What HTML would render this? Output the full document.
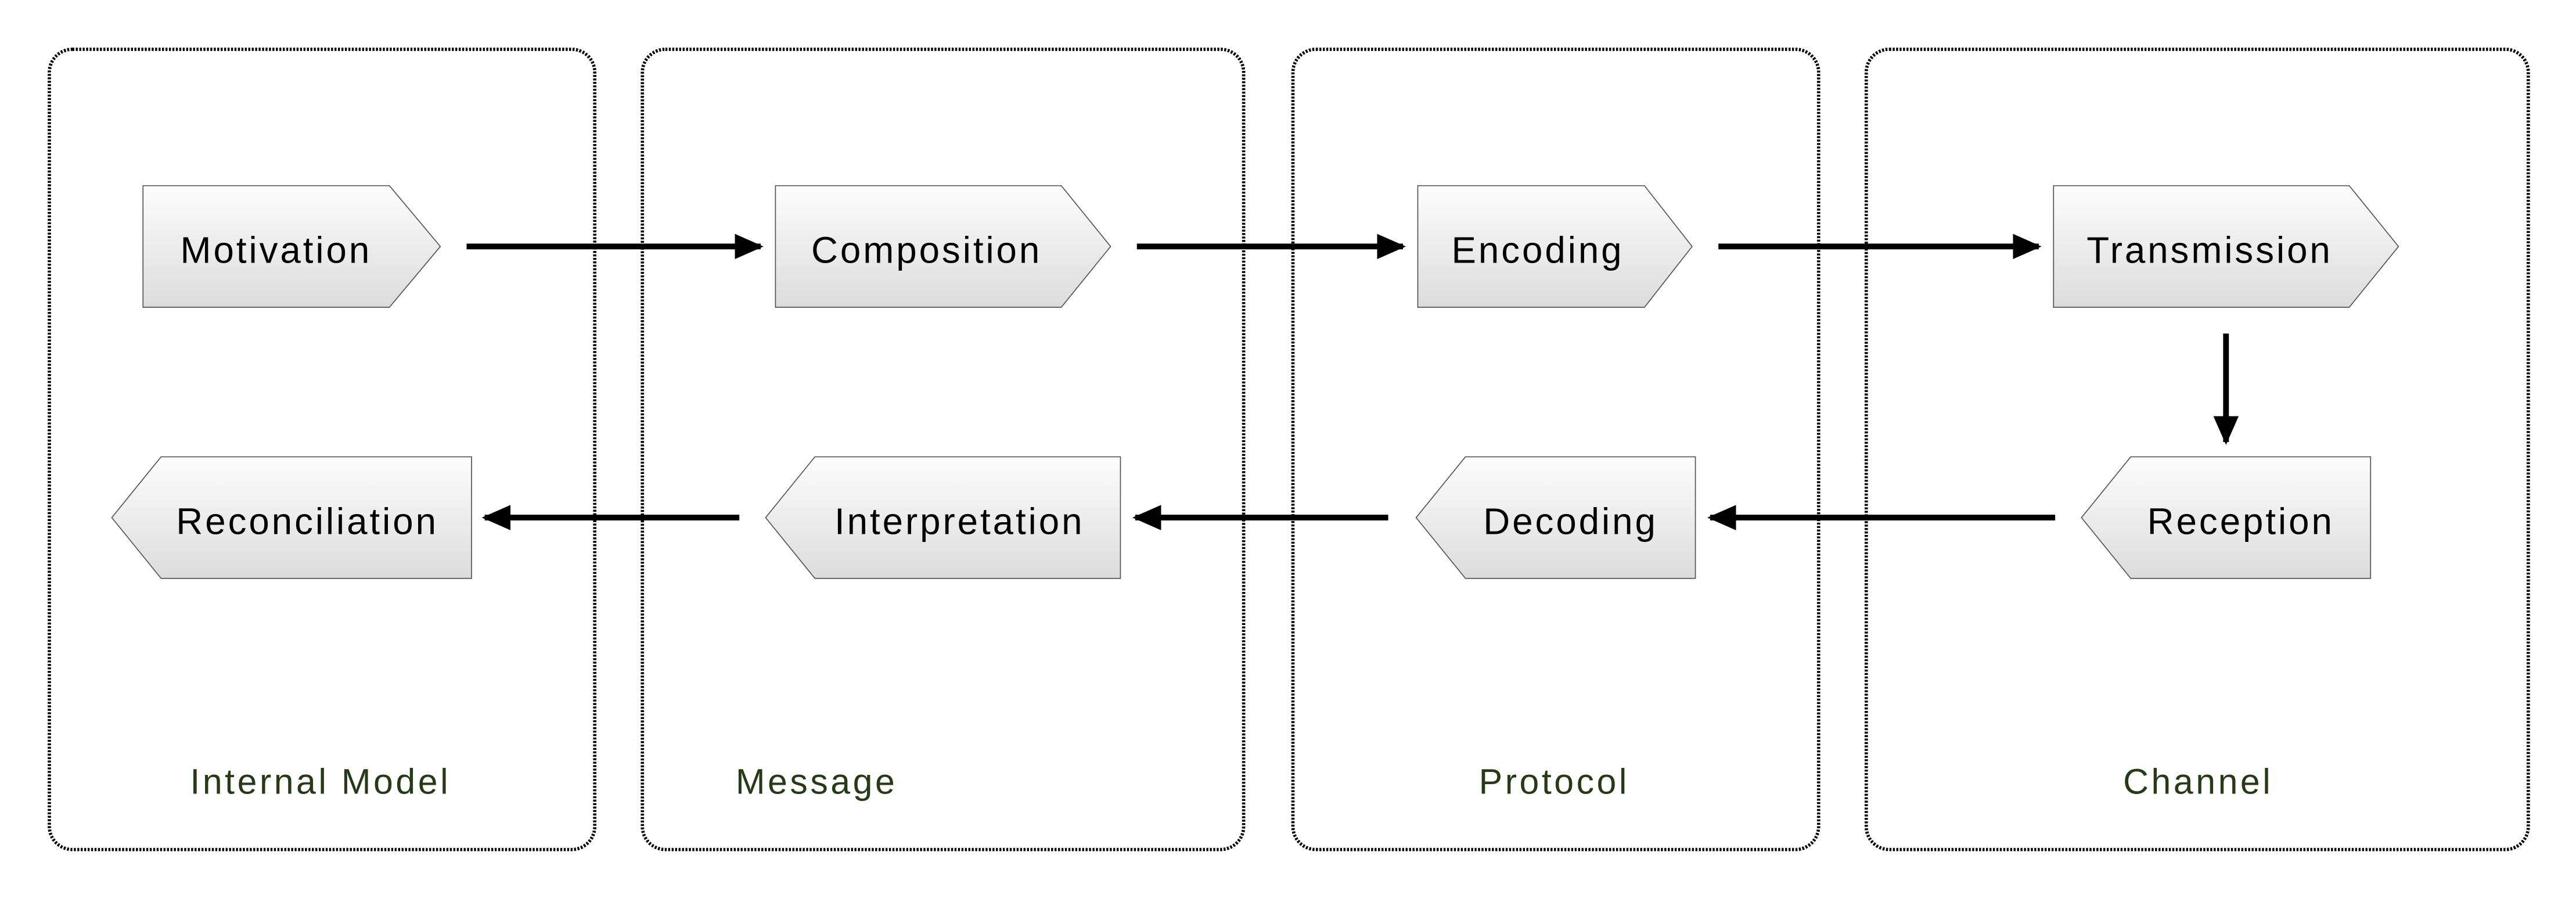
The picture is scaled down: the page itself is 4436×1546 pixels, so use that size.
<!DOCTYPE html>
<html><head><meta charset="utf-8"><style>
html,body{margin:0;padding:0;background:#fff;}
svg{display:block;}
text{font-family:"Liberation Sans",sans-serif;}
</style></head><body>
<svg width="4436" height="1546" viewBox="0 0 1568 546.5" xmlns="http://www.w3.org/2000/svg">
<defs>
<linearGradient id="g" x1="0" y1="0" x2="0" y2="1">
<stop offset="0" stop-color="#fdfdfd"/><stop offset="1" stop-color="#dcdcdc"/>
</linearGradient>
<marker id="ah" markerWidth="5" markerHeight="4.4" refX="4.5" refY="2.2" orient="auto" markerUnits="strokeWidth">
<path d="M0,0 L5,2.2 L0,4.4 z" fill="#000"/>
</marker>
</defs>
<g fill="none" stroke="#000" stroke-width="2" stroke-dasharray="1.2 0.9">
<rect x="30" y="30" width="332" height="487" rx="14"/>
<rect x="391" y="30" width="366" height="487" rx="14"/>
<rect x="787" y="30" width="320" height="487" rx="14"/>
<rect x="1136" y="30" width="403" height="487" rx="14"/>
</g>
<g fill="url(#g)" stroke="#555" stroke-width="0.6">
<path d="M87,113 H237 L268,150 L237,187 H87 Z"/>
<path d="M472,113 H646 L676,150 L646,187 H472 Z"/>
<path d="M863,113 H1001 L1030,150 L1001,187 H863 Z"/>
<path d="M1250,113 H1430 L1460,150 L1430,187 H1250 Z"/>
<path d="M287,278 H98 L68,315 L98,352 H287 Z"/>
<path d="M682,278 H496 L466,315 L496,352 H682 Z"/>
<path d="M1032,278 H892 L862,315 L892,352 H1032 Z"/>
<path d="M1443,278 H1297 L1267,315 L1297,352 H1443 Z"/>
</g>
<g font-size="22.5" fill="#000" letter-spacing="1.4">
<text x="168" y="160" text-anchor="middle">Motivation</text>
<text x="564" y="160" text-anchor="middle">Composition</text>
<text x="936" y="160" text-anchor="middle">Encoding</text>
<text x="1345" y="160" text-anchor="middle">Transmission</text>
<text x="187" y="325" text-anchor="middle">Reconciliation</text>
<text x="584" y="325" text-anchor="middle">Interpretation</text>
<text x="956" y="325" text-anchor="middle">Decoding</text>
<text x="1364" y="325" text-anchor="middle">Reception</text>
</g>
<g stroke="#000" stroke-width="3.5" marker-end="url(#ah)">
<line x1="284" y1="150" x2="463" y2="150"/>
<line x1="692" y1="150" x2="854" y2="150"/>
<line x1="1046" y1="150" x2="1241" y2="150"/>
<line x1="1355" y1="203" x2="1355" y2="269"/>
<line x1="1251" y1="315" x2="1041" y2="315"/>
<line x1="845" y1="315" x2="691" y2="315"/>
<line x1="450" y1="315" x2="295" y2="315"/>
</g>
<g font-size="21.5" fill="#263a18" text-anchor="middle" letter-spacing="1.6">
<text x="195" y="483">Internal Model</text>
<text x="497" y="483">Message</text>
<text x="946" y="483">Protocol</text>
<text x="1338" y="483">Channel</text>
</g>
</svg>
</body></html>
